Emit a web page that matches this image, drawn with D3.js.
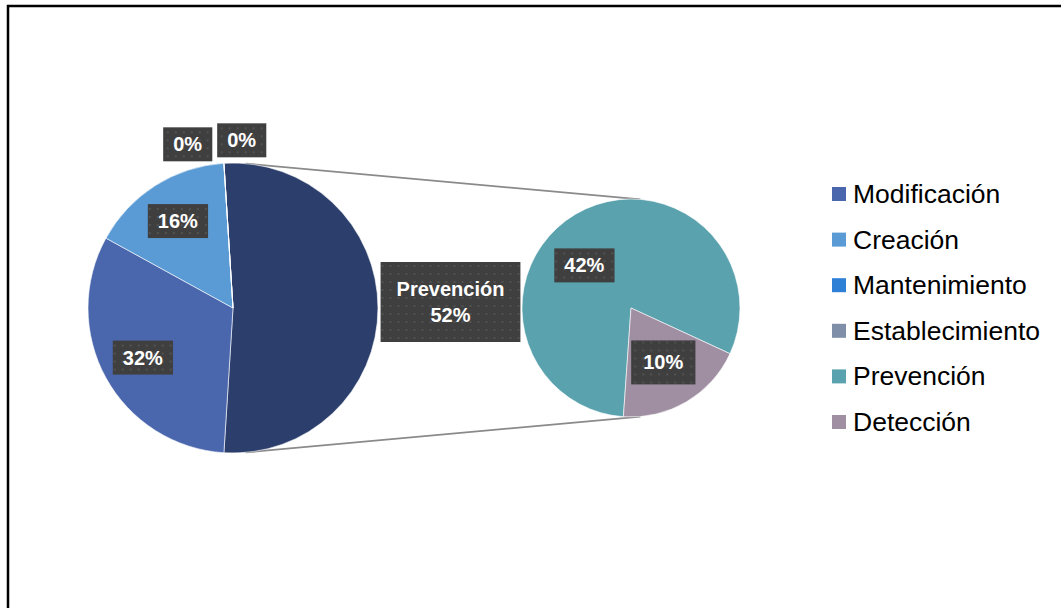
<!DOCTYPE html>
<head>
    <meta charset="utf-8">
    <script src="https://d3js.org/d3.v7.min.js"></script>
    <style>
      body { margin: 0; background: #fff; }
      text { font-family: "Liberation Sans", Arial, sans-serif; }
    </style>
</head>

<body>
    <div id="pieofpie"></div>
</body>

<script>
  // categories and values (percent)
  const categories = ["Modificación", "Creación", "Mantenimiento", "Establecimiento", "Prevención", "Detección"];
  const values = [32, 16, 0, 0, 42, 10];
  const colors = ["#4A66AC", "#5B9BD5", "#2E7FD6", "#7F8FA9", "#5AA2AE", "#A08FA2"];
  // which categories go to the second pie
  const secondary = ["Prevención", "Detección"];
  const otherName = "Prevención";
  const otherColor = "#2C3E6B";

  const W = 1061, H = 608;
  const svg = d3.select("#pieofpie").append("svg")
    .attr("width", W).attr("height", H);

  // dotted label texture
  const pat = svg.append("defs").append("pattern")
    .attr("id", "dots").attr("width", 8).attr("height", 8)
    .attr("patternUnits", "userSpaceOnUse");
  pat.append("rect").attr("width", 8).attr("height", 8).attr("fill", "#3f3f3f");
  pat.append("circle").attr("cx", 4).attr("cy", 4).attr("r", 1.1).attr("fill", "#555");

  // frame
  svg.append("path").attr("d", `M8,${H + 5}V6H${W + 5}`)
    .attr("fill", "none").attr("stroke", "#000").attr("stroke-width", 2.5);

  const mainC = [233, 308], mainR = 145;
  const subC = [631, 308], subR = 109;

  const rows = categories.map((c, i) => ({name: c, value: values[i], color: colors[i]}));
  const firstRows = rows.filter(d => !secondary.includes(d.name));
  const secondRows = rows.filter(d => secondary.includes(d.name));
  const otherTotal = d3.sum(secondRows, d => d.value);

  // main pie: other slice centred on the right side
  const mainData = [{name: otherName, value: otherTotal, color: otherColor, other: true}]
    .concat(firstRows);
  const total = d3.sum(mainData, d => d.value);
  const otherAngle = otherTotal / total * 2 * Math.PI;
  const mainPie = d3.pie().sort(null).value(d => d.value)
    .startAngle(Math.PI / 2 - otherAngle / 2)
    .endAngle(Math.PI / 2 - otherAngle / 2 + 2 * Math.PI);
  const mainArcs = mainPie(mainData);

  // second pie
  const subEnd = 184 * Math.PI / 180;
  const subPie = d3.pie().sort(null).value(d => d.value)
    .startAngle(subEnd - 2 * Math.PI).endAngle(subEnd);
  const subArcs = subPie(secondRows);

  const arcMain = d3.arc().innerRadius(0).outerRadius(mainR);
  const arcSub = d3.arc().innerRadius(0).outerRadius(subR);

  // connector lines
  const conn = 5 * Math.PI / 180;
  const pt = (c, r, a) => [c[0] + r * Math.sin(a), c[1] - r * Math.cos(a)];
  [conn, Math.PI - conn].forEach(a => {
    const p1 = pt(mainC, mainR, a), p2 = pt(subC, subR, a);
    svg.append("line")
      .attr("x1", p1[0]).attr("y1", p1[1]).attr("x2", p2[0]).attr("y2", p2[1])
      .attr("stroke", "#8a8a8a").attr("stroke-width", 1.8);
  });

  const gMain = svg.append("g").attr("transform", `translate(${mainC})`);
  gMain.selectAll("path").data(mainArcs).join("path")
    .attr("d", arcMain)
    .attr("fill", d => d.data.color)
    .attr("stroke", "#fff").attr("stroke-width", 0.6);

  const gSub = svg.append("g").attr("transform", `translate(${subC})`);
  gSub.selectAll("path").data(subArcs).join("path")
    .attr("d", arcSub)
    .attr("fill", d => d.data.color)
    .attr("stroke", "#fff").attr("stroke-width", 0.6);

  // data labels
  function label(x, y, lines, padX = 10, boxH = 34) {
    const g = svg.append("g").attr("transform", `translate(${x},${y})`);
    const lh = 26;
    const t = g.append("text").attr("text-anchor", "middle")
      .attr("fill", "#fff").attr("font-weight", "bold").attr("font-size", 20);
    lines.forEach((s, i) => {
      t.append("tspan").attr("x", 0)
        .attr("y", (i - (lines.length - 1) / 2) * lh + 7).text(s);
    });
    const b = t.node().getBBox();
    g.insert("rect", "text")
      .attr("x", b.x - padX).attr("y", -boxH / 2)
      .attr("width", b.width + 2 * padX).attr("height", boxH)
      .attr("fill", "url(#dots)");
  }

  mainArcs.forEach(d => {
    const mid = (d.startAngle + d.endAngle) / 2;
    if (d.data.other) {
      const p = pt(mainC, mainR * 1.5, mid);
      label(p[0], p[1] - 6, [d.data.name, d.data.value + "%"], 16, 80);
    } else if (d.data.value === 0) {
      const p = pt(mainC, mainR + 20, mid);
      const shift = d.data.name === "Mantenimiento" ? [-35, 1] : [19, -3];
      label(p[0] + shift[0], p[1] + shift[1], [d.data.value + "%"]);
    } else {
      const p = pt(mainC, mainR * 0.71, mid);
      label(p[0], p[1], [d.data.value + "%"]);
    }
  });
  subArcs.forEach((d, i) => {
    let mid = (d.startAngle + d.endAngle) / 2;
    if (i === 0) mid -= 17 * Math.PI / 180;
    const p = pt(subC, subR * 0.58, mid);
    if (i === 0) label(p[0], p[1], [d.data.value + "%"]);
    else label(p[0], p[1], [d.data.value + "%"], 12, 44);
  });

  // legend
  const legend = svg.append("g").attr("transform", "translate(832,194)");
  const item = legend.selectAll("g").data(rows).join("g")
    .attr("transform", (d, i) => `translate(0,${i * 45.6})`);
  item.append("rect").attr("x", 0).attr("y", -7).attr("width", 14).attr("height", 14)
    .attr("fill", d => d.color);
  item.append("text").attr("x", 21).attr("y", 9)
    .attr("font-size", 26.5).attr("fill", "#000")
    .text(d => d.name);
</script>
